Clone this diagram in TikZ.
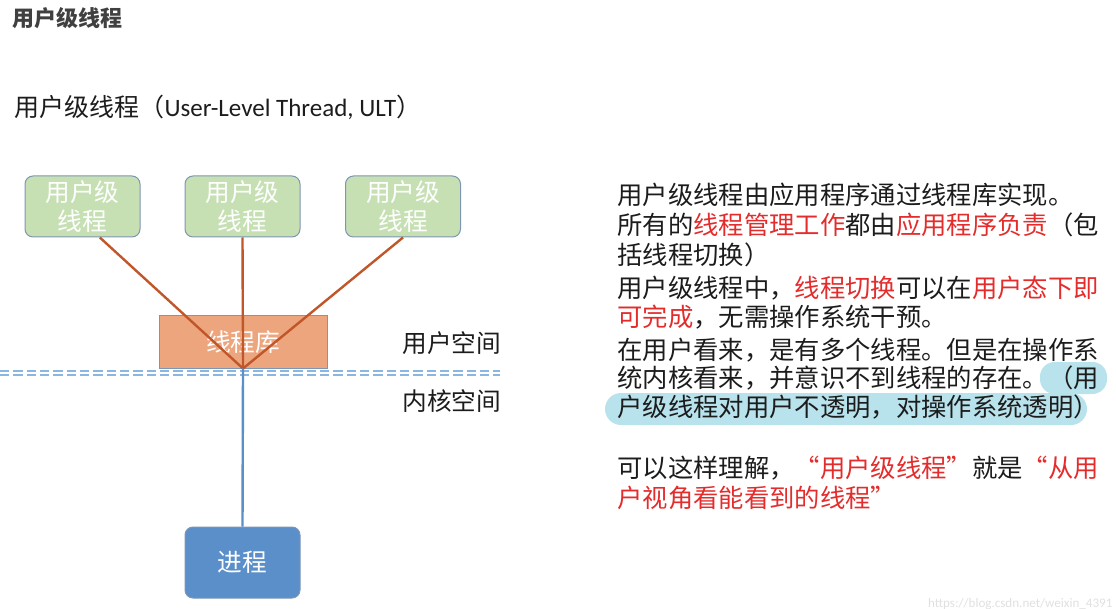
\documentclass[tikz,border=0pt]{standalone}
\definecolor{mygreen}{RGB}{198, 224, 180}
\definecolor{myedge}{RGB}{125, 150, 180}
\definecolor{myorange}{RGB}{236, 165, 125}
\definecolor{mybrown}{RGB}{192, 86, 42}
\definecolor{myblue}{RGB}{91, 143, 201}
\definecolor{mydash}{RGB}{140, 182, 226}
\definecolor{myred}{RGB}{228, 44, 44}
\definecolor{mycyan}{RGB}{184, 226, 236}
\definecolor{mytext}{RGB}{28, 28, 28}
\usepackage{fontspec}
\setmainfont{Noto Sans CJK SC}
\newfontfamily\latinfont{Carlito}
\usepackage{tikz}
\tikzset{every picture/.style={line width=0.75pt}}
\tikzset{
  thrbox/.style={draw=myedge, fill=mygreen, rounded corners=6pt, minimum width=86.25pt, minimum height=45.75pt, align=center, text=white, font=\fontsize{18.5}{21.75}\selectfont},
  libbox/.style={draw=myedge, fill=myorange, minimum width=126pt, minimum height=39pt, text=white, font=\fontsize{18.5}{21.75}\selectfont},
  procbox/.style={draw=myedge, fill=myblue, rounded corners=6pt, minimum width=86.25pt, minimum height=53.25pt, text=white, font=\fontsize{18.5}{21.75}\selectfont},
  bodytext/.style={anchor=west, inner sep=0pt, text=mytext, font=\fontsize{19}{22}\selectfont},
  spaceline/.style={mydash, line width=1.5pt, dash pattern=on 7pt off 3pt},
}
\newcommand{\redtxt}[1]{\textcolor{myred}{#1}}

\begin{document}
\begin{tikzpicture}[x=0.75pt,y=-0.75pt]
\useasboundingbox (0,0) rectangle (1116,609);

% highlight behind the last sentence
\fill [mycyan, rounded corners=11pt] (1040,362) rectangle (1107,394);
\fill [mycyan, rounded corners=12pt] (605,393) rectangle (1087,425);

% Title
\node (title) [anchor=west, inner sep=0pt, text=black!75] at (12,18) {\fontsize{16.5}{18}\selectfont\bfseries 用户级线程};
\node (subtitle) [anchor=west, inner sep=0pt, text=mytext] at (14,107) {\fontsize{18.75}{21}\selectfont 用户级线程（{\latinfont User-Level Thread, ULT}）};

% Shapes
\node (thr1) [thrbox] at (82.5,206.5) {用户级\\线程};
\node (thr2) [thrbox] at (242.5,206.5) {用户级\\线程};
\node (thr3) [thrbox] at (403,206.5) {用户级\\线程};
\node (lib) [libbox] at (243,342) {线程库};
\node (proc) [procbox] at (242.5,562.5) {进程};

% boundary between user and kernel space
\draw [spaceline] (0,371) -- (500,371);
\draw [spaceline] (0,375) -- (500,375);
\node (user) [anchor=west, inner sep=0pt, text=mytext] at (402,343) {\fontsize{18.5}{21}\selectfont 用户空间};
\node (kernel) [anchor=west, inner sep=0pt, text=mytext] at (402,401) {\fontsize{18.5}{21}\selectfont 内核空间};

% Connectors
\draw [mybrown, line width=1.8pt] ([xshift=13pt]thr1.south) -- (lib.south);
\draw [mybrown, line width=1.8pt] (thr2.south) -- (lib.south);
\draw [mybrown, line width=1.8pt] (thr3.south) -- (lib.south);
\draw [myblue, line width=1.8pt] (lib.south) -- (proc.north);

% Text Nodes
\node (l1) [bodytext] at (617,195) {用户级线程由应用程序通过线程库实现。};
\node (l2) [bodytext] at (617,225) {所有的\redtxt{线程管理工作}都由\redtxt{应用程序负责}（包};
\node (l3) [bodytext] at (617,255) {括线程切换）};
\node (l4) [bodytext] at (617,288) {用户级线程中，\redtxt{线程切换}可以在\redtxt{用户态下即}};
\node (l5) [bodytext] at (617,317) {\redtxt{可完成}，无需操作系统干预。};
\node (l6) [bodytext] at (617,350) {在用户看来，是有多个线程。但是在操作系};
\node (l7) [bodytext] at (617,378) {统内核看来，并意识不到线程的存在。（用};
\node (l8) [bodytext] at (617,407) {户级线程对用户不透明，对操作系统透明）};
\node (l9) [bodytext] at (617,468) {可以这样理解，\redtxt{“用户级线程”}就是\redtxt{“从用}};
\node (l10) [bodytext] at (617,498) {\redtxt{户视角看能看到的线程”}};

% watermark
\node (mark) [anchor=east, inner sep=0pt, text=black!12] at (1113,604) {\fontsize{9.8}{11}\selectfont\latinfont https://blog.csdn.net/weixin\_4391};

\end{tikzpicture}
\end{document}
